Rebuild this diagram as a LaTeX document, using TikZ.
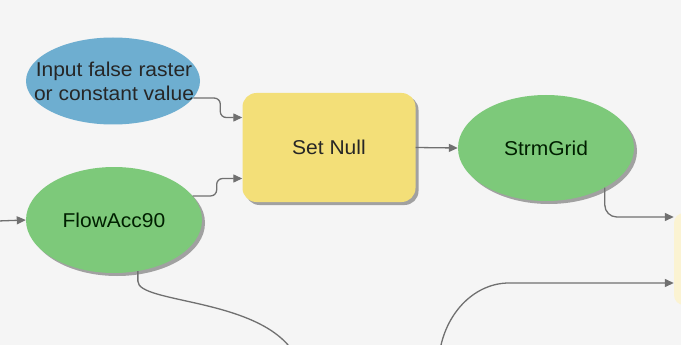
\documentclass[tikz,border=0pt]{standalone}
\usepackage{fontspec}
\setmainfont{Liberation Sans}[FakeStretch=1.05]
\usetikzlibrary{arrows.meta,shapes.geometric,shadows}

\definecolor{bgcol}{HTML}{F5F5F5}
\definecolor{varblue}{HTML}{6EAED0}
\definecolor{vargreen}{HTML}{7DC97A}
\definecolor{toolyellow}{HTML}{F3DF78}
\definecolor{paleyellow}{HTML}{FBF3D2}
\definecolor{linkgray}{HTML}{707070}

\tikzset{
  shade box/.style={drop shadow={shadow xshift=3pt,shadow yshift=-3pt,fill=black!45,opacity=.8}},
  label text/.style={align=center,font=\fontsize{20}{24}\selectfont,text=black!85},
  inputvar/.style={ellipse,fill=varblue,minimum width=174pt,minimum height=87pt,inner sep=0pt},
  datavar/.style={ellipse,fill=vargreen,shade box,minimum width=176pt,minimum height=106pt,inner sep=0pt,
    label text,text=black!80!green!60!black},
  toolbox/.style={rectangle,rounded corners=14pt,fill=toolyellow,shade box,minimum width=173pt,
    minimum height=109pt,label text},
  link/.style={draw=linkgray,line width=1.3pt,rounded corners=6pt,-{Triangle[length=9pt,width=8pt]}},
}

\begin{document}
\begin{tikzpicture}[x=1pt,y=-1pt]
  \fill[bgcol] (0,0) rectangle (681,345);
  \useasboundingbox (0,0) rectangle (681,345);
  \clip (0,0) rectangle (681,345);

  % nodes
  \node[inputvar] (input) at (113,81) {};
  \node[label text] (inputtext) at ([xshift=1pt]input.center) {Input false raster\\or constant value};
  \node[toolbox] (setnull) at (329,147.5) {Set Null};
  \node[datavar] (strm) at (546,148) {StrmGrid};
  \node[datavar] (flow) at (114,220) {FlowAcc90};
  \node[rectangle,rounded corners=10pt,fill=paleyellow,minimum width=90pt,minimum height=92pt] (next) at (719,259) {};

  % free ends
  \coordinate (inL) at (-2,221);
  \coordinate (outB) at (292,350);
  \coordinate (inB) at (440,350);

  % connectors
  \draw[link] (input.-12) -- ++(27,0) |- ([yshift=30pt]setnull.west);
  \draw[link] (flow.17) -- ++(24,0) |- ([yshift=-31pt]setnull.west);
  \draw[link] (inL) -- (flow.west);
  \draw[link] (setnull.east) -- (strm.west);
  \draw[link,rounded corners=12pt] (strm.-34) |- ([yshift=42pt]next.west);
  \draw[link] (inB) to[out=80,in=180] ++(75,-67) -- ([yshift=-24pt]next.west);
  \draw[draw=linkgray,line width=1.3pt] (flow.-65) -- ++(0,10)
    .. controls ++(0,22) and (255,298) .. (outB);
\end{tikzpicture}
\end{document}
